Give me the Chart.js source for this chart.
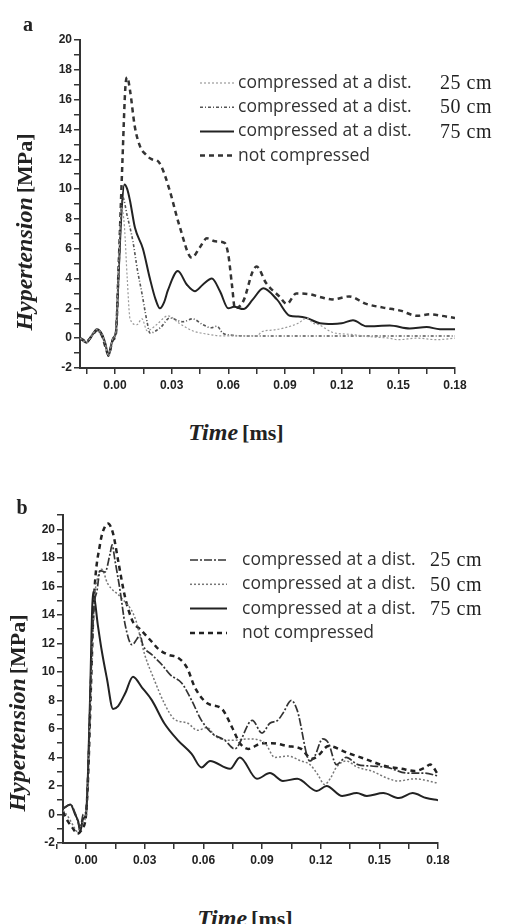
<!DOCTYPE html>
<html>
<head>
<meta charset="utf-8">
<script src="https://cdn.jsdelivr.net/npm/chart.js@4.4.0/dist/chart.umd.min.js"></script>
<style>
  body { margin: 0; background: #fff; }
  #page { position: relative; width: 507px; height: 924px; overflow: hidden; background: #fff; }
  canvas { position: absolute; left: 0; }
  #chartA { top: 0; }
  #chartB { top: 470px; }
  .txt { position: absolute; font-family: 'Liberation Serif', 'Times New Roman', serif; font-weight: bold; color: #222; white-space: nowrap; transform: translate(-50%, -50%); }
  .txt i { font-size: 24px; }
  .txt span { font-size: 22px; }
  .rot { transform: translate(-50%, -50%) rotate(-90deg); }
  .panel { font-size: 20px; }
</style>
</head>
<body>
<div id="page">
  <canvas id="chartA" width="507" height="400"></canvas>
  <canvas id="chartB" width="507" height="420"></canvas>
  <div class="txt panel" style="left:28px;top:24px">a</div>
  <div class="txt rot" style="left:24px;top:232px"><i>Hypertension</i> <span>[MPa]</span></div>
  <div class="txt" style="left:236px;top:432px"><i>Time</i> <span>[ms]</span></div>
  <div class="txt panel" style="left:22px;top:507px">b</div>
  <div class="txt rot" style="left:17px;top:713px"><i>Hypertension</i> <span>[MPa]</span></div>
  <div class="txt" style="left:245px;top:918px"><i>Time</i> <span>[ms]</span></div>
</div>
<script>
// legend text
const seriesLabels = ['compressed at a dist.', 'compressed at a dist.', 'compressed at a dist.', 'not compressed']
const distLabels = ['25 cm', '50 cm', '75 cm', '']

// tick values / labels (x in ms, y in MPa)
const xTickValues = [-0.015, 0, 0.015, 0.03, 0.045, 0.06, 0.075, 0.09, 0.105, 0.12, 0.135, 0.15, 0.165, 0.18]
const xMajor = [0, 0.03, 0.06, 0.09, 0.12, 0.15, 0.18]
const xTickLabels = ['0.00', '0.03', '0.06', '0.09', '0.12', '0.15', '0.18']
const yTickValues = [-2, -1, 0, 1, 2, 3, 4, 5, 6, 7, 8, 9, 10, 11, 12, 13, 14, 15, 16, 17, 18, 19, 20, 21]

// ---- panel a ----
const a25t = [-0.0185, -0.015, -0.0125, -0.0096, -0.007, -0.005, -0.0035, -0.001, 0.0005, 0.002, 0.0035, 0.005, 0.0065, 0.008, 0.0116, 0.0143, 0.017, 0.022, 0.028, 0.034, 0.041, 0.049, 0.057, 0.065, 0.075, 0.078, 0.084, 0.09, 0.097, 0.1015, 0.105, 0.108, 0.115, 0.125, 0.135, 0.145, 0.15, 0.16, 0.17, 0.18]
const a25v = [0, -0.3, 0.1, 0.6, 0.3, -0.4, -1.2, 0, 0.4, 5, 8.8, 7.5, 4.0, 1.3, 0.9, 1.3, 0.5, 0.9, 1.5, 1.0, 0.5, 0.27, 0.15, 0.15, 0.15, 0.45, 0.55, 0.7, 1.0, 1.35, 1.0, 0.9, 0.4, 0.25, 0.1, 0.0, -0.1, 0.0, -0.1, 0.0]

const a50t = [-0.0185, -0.015, -0.0125, -0.0096, -0.007, -0.005, -0.0035, -0.001, 0.0005, 0.002, 0.004, 0.0065, 0.0095, 0.012, 0.014, 0.017, 0.0185, 0.024, 0.029, 0.036, 0.041, 0.0466, 0.051, 0.054, 0.057, 0.062, 0.07, 0.08, 0.1, 0.12, 0.14, 0.16, 0.18]
const a50v = [0, -0.2, 0.2, 0.5, 0.2, -0.5, -1.0, 0, 0.3, 4.5, 9.5, 8.2, 6.5, 4.5, 3.2, 1.1, 0.35, 0.7, 1.35, 1.1, 1.3, 0.9, 0.7, 0.8, 0.35, 0.2, 0.15, 0.15, 0.15, 0.15, 0.15, 0.15, 0.15]

const a75t = [-0.0185, -0.015, -0.0125, -0.0096, -0.007, -0.005, -0.0035, -0.001, 0.0005, 0.002, 0.0035, 0.005, 0.0065, 0.008, 0.0106, 0.0148, 0.0185, 0.0215, 0.0238, 0.026, 0.028, 0.0333, 0.038, 0.0423, 0.0466, 0.0513, 0.0556, 0.06, 0.063, 0.068, 0.073, 0.0785, 0.0857, 0.0926, 0.097, 0.1015, 0.1085, 0.115, 0.12, 0.126, 0.133, 0.1455, 0.156, 0.165, 0.172, 0.18]
const a75v = [0, -0.3, 0.1, 0.6, 0.3, -0.4, -1.2, 0, 0.4, 4.5, 8.5, 10.3, 10.0, 9.2, 7.4, 6.0, 4.0, 2.6, 2.0, 2.4, 3.2, 4.5, 3.6, 3.15, 3.6, 4.0, 3.15, 2.0, 2.1, 1.95, 2.6, 3.35, 2.6, 1.5, 1.45, 1.35, 1.0, 0.95, 1.0, 1.2, 0.8, 0.85, 0.65, 0.75, 0.6, 0.6]

const aNct = [-0.0185, -0.015, -0.0125, -0.0096, -0.007, -0.005, -0.0035, -0.001, 0.0005, 0.002, 0.004, 0.0055, 0.0065, 0.008, 0.0105, 0.0135, 0.0165, 0.0195, 0.0225, 0.025, 0.029, 0.034, 0.0407, 0.045, 0.0487, 0.053, 0.058, 0.06, 0.062, 0.0635, 0.068, 0.073, 0.075, 0.08, 0.087, 0.091, 0.096, 0.103, 0.109, 0.115, 0.124, 0.133, 0.142, 0.151, 0.16, 0.167, 0.173, 0.18]
const aNcv = [0, -0.2, 0.1, 0.5, 0.2, -0.6, -1.1, -0.1, 0.3, 5, 12, 16.8, 17.5, 16.6, 14.2, 12.8, 12.3, 12.0, 11.9, 11.4, 9.9, 7.6, 5.4, 6.1, 6.7, 6.5, 6.4, 5.6, 3.5, 2.0, 2.5, 4.5, 4.8, 3.7, 2.8, 2.3, 3.0, 2.95, 2.75, 2.6, 2.8, 2.3, 2.05, 1.85, 1.5, 1.6, 1.5, 1.35]

// ---- panel b ----
const b25t = [-0.0118, -0.008, -0.0056, -0.004, -0.003, -0.0015, 0, 0.001, 0.0025, 0.004, 0.0056, 0.0072, 0.0097, 0.0123, 0.0133, 0.0148, 0.0174, 0.02, 0.0235, 0.026, 0.0276, 0.029, 0.0337, 0.0388, 0.043, 0.049, 0.054, 0.059, 0.0644, 0.071, 0.076, 0.085, 0.09, 0.094, 0.098, 0.1007, 0.105, 0.108, 0.1145, 0.117, 0.121, 0.124, 0.128, 0.133, 0.139, 0.146, 0.154, 0.1645, 0.173, 0.18]
const b25v = [0.4, 0.7, 0.1, -0.6, -1.0, 0, 0.2, 3, 10, 14.5, 15.7, 17.1, 17.0, 18.3, 18.9, 17.8, 15.7, 13.3, 11.9, 12.3, 12.6, 11.9, 11.2, 10.5, 9.8, 9.2, 8.0, 6.6, 5.7, 5.2, 4.6, 6.6, 5.7, 6.4, 6.6, 7.1, 8.0, 7.3, 3.75, 4.1, 5.3, 5.0, 3.5, 4.0, 3.5, 3.4, 3.3, 2.9, 2.9, 2.7]

const b50t = [-0.0118, -0.009, -0.0065, -0.0045, -0.002, 0, 0.001, 0.0025, 0.004, 0.0065, 0.008, 0.011, 0.018, 0.025, 0.03, 0.035, 0.04, 0.045, 0.052, 0.057, 0.062, 0.066, 0.075, 0.083, 0.0915, 0.0966, 0.103, 0.11, 0.1145, 0.1185, 0.122, 0.125, 0.128, 0.133, 0.139, 0.146, 0.154, 0.1595, 0.168, 0.18]
const b50v = [0.3, -0.2, -0.8, -1.2, -0.6, 0, 2.5, 9, 14.5, 16.9, 17.2, 16.2, 15.2, 13.8, 11.2, 9.4, 7.8, 6.7, 6.4, 5.9, 6.1, 5.5, 5.2, 5.3, 5.0, 4.0, 4.1, 3.75, 3.5, 2.8, 2.1, 2.55, 3.3, 3.75, 3.3, 3.05, 2.55, 2.35, 2.5, 2.2]

const b75t = [-0.0118, -0.008, -0.0056, -0.004, -0.003, -0.0015, 0, 0.001, 0.002, 0.0036, 0.006, 0.008, 0.0107, 0.0138, 0.0164, 0.02, 0.024, 0.0286, 0.0337, 0.04, 0.047, 0.054, 0.059, 0.0634, 0.0736, 0.0787, 0.0874, 0.094, 0.1007, 0.108, 0.118, 0.123, 0.131, 0.1385, 0.1436, 0.152, 0.16, 0.167, 0.174, 0.18]
const b75v = [0.4, 0.7, 0.0, -0.5, -1.2, -0.3, 0, 3, 8, 15.6, 13.3, 11.5, 9.5, 7.4, 7.6, 8.5, 9.65, 8.9, 8.0, 6.4, 5.2, 4.25, 3.3, 3.75, 3.2, 4.0, 2.5, 2.9, 2.35, 2.5, 1.65, 2.0, 1.3, 1.5, 1.3, 1.5, 1.15, 1.5, 1.15, 1.0]

const bNct = [-0.0118, -0.0092, -0.0066, -0.0046, -0.002, 0, 0.001, 0.0025, 0.004, 0.0072, 0.0097, 0.0112, 0.0138, 0.0164, 0.02, 0.024, 0.0276, 0.0337, 0.037, 0.042, 0.047, 0.0516, 0.0557, 0.062, 0.0695, 0.0747, 0.0787, 0.083, 0.09, 0.095, 0.103, 0.11, 0.1155, 0.1185, 0.124, 0.134, 0.1426, 0.153, 0.1615, 0.168, 0.1735, 0.176, 0.18]
const bNcv = [0.2, -0.5, -1.0, -1.35, -1.0, 0, 2.5, 9, 15, 19.0, 20.2, 20.4, 19.7, 17.8, 15.2, 13.5, 13.0, 12.1, 11.6, 11.2, 11.0, 10.3, 8.9, 7.8, 7.4, 6.1, 5.0, 4.6, 5.0, 5.0, 4.8, 4.6, 3.9, 4.1, 4.8, 4.3, 3.9, 3.4, 3.2, 3.05, 3.3, 3.5, 2.8]

const pts = (t, v) => t.map((x, i) => ({x: x, y: v[i]}))

const legendPlugin = {
  id: 'sideLegend',
  afterDraw(chart, args, opts) {
    const ctx = chart.ctx
    ctx.save()
    chart.data.datasets.forEach((ds, i) => {
      const y = opts.y0 + i * opts.dy
      ctx.beginPath()
      ctx.setLineDash(ds.borderDash || [])
      ctx.strokeStyle = ds.borderColor
      ctx.lineWidth = ds.borderWidth
      ctx.moveTo(opts.x0, y)
      ctx.lineTo(opts.x0 + opts.len, y)
      ctx.stroke()
      ctx.setLineDash([])
      ctx.fillStyle = '#333'
      ctx.textBaseline = 'middle'
      ctx.letterSpacing = '0px'
      ctx.font = '17.5px "Open Sans"'
      ctx.fillText(seriesLabels[i], opts.textX, y)
      ctx.fillStyle = '#222'
      ctx.letterSpacing = '0.5px'
      ctx.font = '20px "Liberation Serif"'
      ctx.fillText(distLabels[i], opts.cmX, y + 1)
    })
    ctx.restore()
  }
}

const makeChart = (id, datasets, cfg) => {
  const tickFont = {family: '"Liberation Sans", Arial, sans-serif', size: 12, weight: 'bold'}
  return new Chart(document.getElementById(id), {
    type: 'line',
    data: {datasets: datasets},
    plugins: [legendPlugin],
    options: {
      responsive: false,
      animation: false,
      devicePixelRatio: 1,
      layout: {padding: {top: cfg.top, right: cfg.right, left: 0, bottom: 0}},
      elements: {point: {radius: 0}, line: {cubicInterpolationMode: 'monotone', fill: false}},
      plugins: {
        legend: {display: false},
        tooltip: {enabled: false},
        sideLegend: cfg.legend
      },
      scales: {
        x: {
          type: 'linear', min: cfg.xmin, max: 0.18,
          afterBuildTicks: s => { s.ticks = xTickValues.map(v => ({value: v})) },
          afterFit: s => { s.height = cfg.bottom },
          grid: {drawOnChartArea: false, drawTicks: true, tickLength: 6, color: '#333', lineWidth: 1.5},
          border: {display: true, color: '#333', width: 2},
          ticks: {
            font: tickFont, color: '#222', padding: 4, maxRotation: 0, autoSkip: false,
            callback: v => {
              const k = xMajor.findIndex(m => Math.abs(m - v) < 1e-7)
              return k >= 0 ? xTickLabels[k] : ''
            }
          }
        },
        y: {
          min: -2, max: cfg.ymax,
          afterBuildTicks: s => { s.ticks = yTickValues.filter(v => v <= cfg.ymax).map(v => ({value: v})) },
          afterFit: s => { s.width = cfg.left },
          grid: {drawOnChartArea: false, drawTicks: true, tickLength: 6, color: '#333', lineWidth: 1.5},
          border: {display: true, color: '#333', width: 2},
          ticks: {
            font: tickFont, color: '#222', padding: 2, autoSkip: false,
            callback: v => (v % 2 === 0 ? String(v) : '')
          }
        }
      }
    }
  })
}

makeChart('chartA', [
  {label: '25 cm', data: pts(a25t, a25v), borderColor: '#9a9a9a', borderWidth: 1.2, borderDash: [2, 2]},
  {label: '50 cm', data: pts(a50t, a50v), borderColor: '#555', borderWidth: 1.6, borderDash: [3, 2, 1, 2]},
  {label: '75 cm', data: pts(a75t, a75v), borderColor: '#222', borderWidth: 2},
  {label: 'not compressed', data: pts(aNct, aNcv), borderColor: '#333', borderWidth: 2.5, borderDash: [5, 4]}
], {xmin: -0.0185, ymax: 20, top: 40, right: 52, left: 80, bottom: 32,
    legend: {x0: 200, len: 34, y0: 83, dy: 24.2, textX: 238, cmX: 440}})

makeChart('chartB', [
  {label: '25 cm', data: pts(b25t, b25v), borderColor: '#333', borderWidth: 1.7, borderDash: [8, 2, 2, 2]},
  {label: '50 cm', data: pts(b50t, b50v), borderColor: '#777', borderWidth: 1.5, borderDash: [2, 2]},
  {label: '75 cm', data: pts(b75t, b75v), borderColor: '#222', borderWidth: 2},
  {label: 'not compressed', data: pts(bNct, bNcv), borderColor: '#222', borderWidth: 2.5, borderDash: [5, 4]}
], {xmin: -0.0118, ymax: 21, top: 45, right: 69, left: 63, bottom: 47,
    legend: {x0: 190, len: 37, y0: 90, dy: 24.3, textX: 242, cmX: 430}})
</script>
</body>
</html>
